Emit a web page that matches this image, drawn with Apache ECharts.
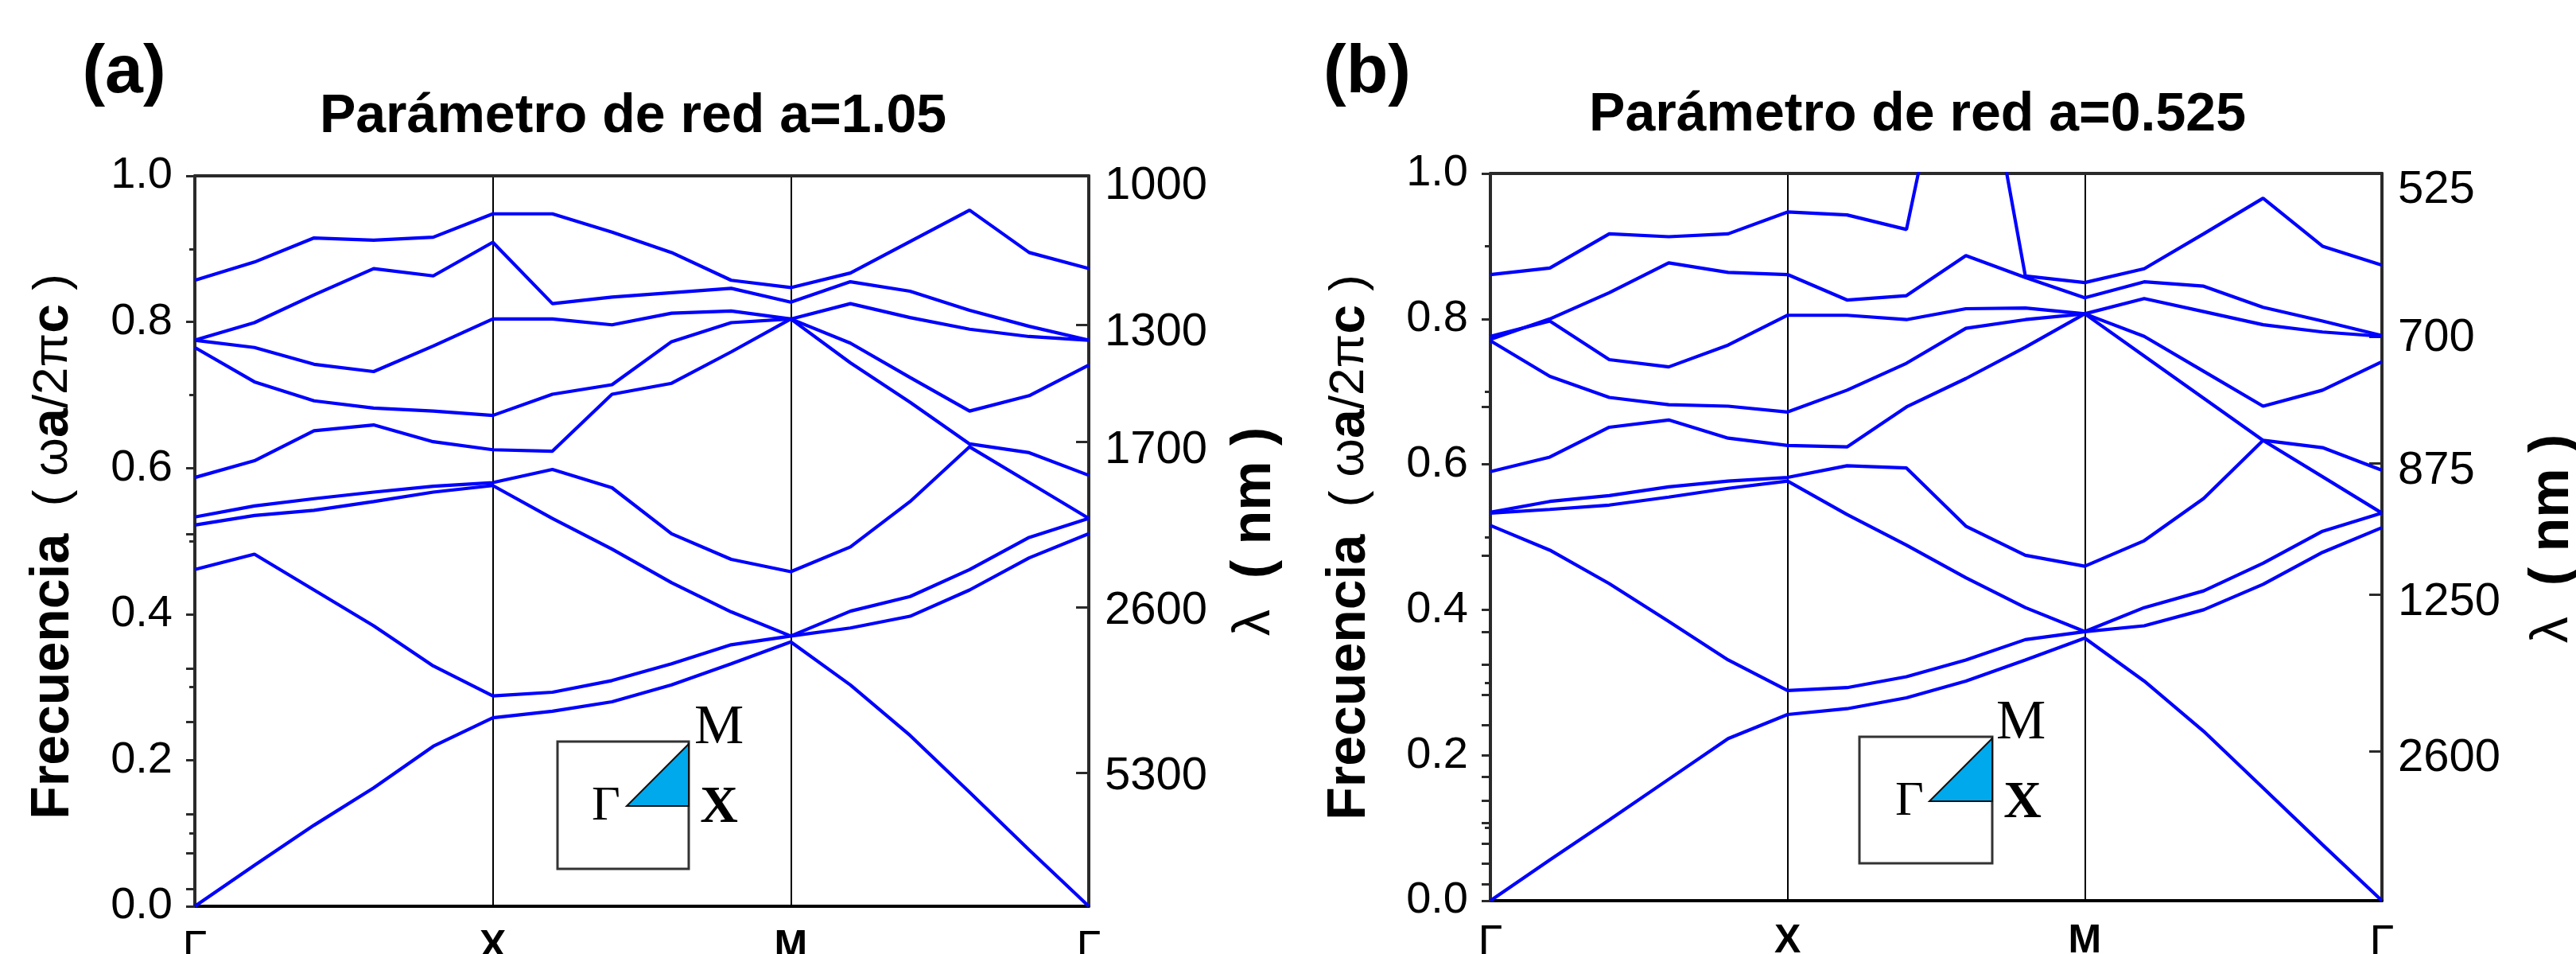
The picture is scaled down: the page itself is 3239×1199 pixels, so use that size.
<!DOCTYPE html>
<html>
<head>
<meta charset="utf-8">
<script src="https://cdn.jsdelivr.net/npm/echarts@6/dist/echarts.min.js"></script>
<style>
  html, body { margin: 0; padding: 0; background: #fff; }
  #chart { width: 3239px; height: 1199px; }
</style>
</head>
<body>
<div id="chart"></div>
<script>
// ---- k-path positions (Γ=0, X=1, M=2, Γ=3) ----
const kPoints = [0, 0.2, 0.4, 0.6, 0.8, 1.0, 1.2, 1.4, 1.6, 1.8, 2.0, 2.2, 2.4, 2.6, 2.8, 3.0];
const kLabels = ['Γ', 'X', 'M', 'Γ'];

// ---- Panel (a): a = 1.05 ----
const a_band1 = [0, 0.056, 0.111, 0.162, 0.219, 0.258, 0.267, 0.280, 0.303, 0.332, 0.362, 0.303, 0.234, 0.156, 0.077, 0];
const a_band2 = [0.461, 0.482, 0.433, 0.384, 0.329, 0.288, 0.293, 0.309, 0.332, 0.358, 0.370, 0.381, 0.397, 0.433, 0.477, 0.510];
const a_band3 = [0.522, 0.535, 0.542, 0.554, 0.567, 0.576, 0.531, 0.489, 0.443, 0.403, 0.370, 0.404, 0.424, 0.461, 0.505, 0.531];
const a_band4 = [0.533, 0.548, 0.558, 0.567, 0.575, 0.580, 0.598, 0.573, 0.510, 0.475, 0.458, 0.492, 0.554, 0.629, 0.580, 0.531];
const a_band5 = [0.587, 0.610, 0.651, 0.659, 0.636, 0.625, 0.623, 0.701, 0.716, 0.759, 0.804, 0.744, 0.690, 0.633, 0.621, 0.590];
const a_band6 = [0.765, 0.718, 0.692, 0.682, 0.678, 0.672, 0.701, 0.714, 0.773, 0.799, 0.804, 0.771, 0.724, 0.678, 0.699, 0.741];
const a_band7 = [0.775, 0.765, 0.742, 0.732, 0.767, 0.804, 0.804, 0.796, 0.812, 0.815, 0.804, 0.825, 0.806, 0.790, 0.780, 0.775];
const a_band8 = [0.775, 0.799, 0.837, 0.873, 0.863, 0.909, 0.825, 0.834, 0.840, 0.846, 0.827, 0.855, 0.842, 0.816, 0.794, 0.775];
const a_band9 = [0.857, 0.882, 0.915, 0.912, 0.916, 0.948, 0.948, 0.923, 0.895, 0.857, 0.847, 0.867, 0.910, 0.953, 0.895, 0.873];

// right axis (wavelength, nm) of panel (a)
const a_lambdaLabels = ['1000', '1300', '1700', '2600', '5300'];
const a_lambdaLabelPos = [0.986, 0.785, 0.624, 0.404, 0.178];
const a_lambdaMajorTicks = [0.796, 0.636, 0.409, 0.183];
const a_lambdaMinorTicks = [0.510, 0.325, 0.252, 0.126, 0.073, 0.024];

// ---- Panel (b): a = 0.525 ----
const b_band1 = [0, 0.056, 0.111, 0.167, 0.223, 0.256, 0.264, 0.279, 0.302, 0.331, 0.361, 0.302, 0.233, 0.155, 0.077, 0];
const b_band2 = [0.516, 0.482, 0.436, 0.384, 0.331, 0.289, 0.293, 0.308, 0.331, 0.359, 0.370, 0.378, 0.400, 0.435, 0.479, 0.513];
const b_band3 = [0.533, 0.538, 0.544, 0.555, 0.567, 0.577, 0.531, 0.489, 0.444, 0.403, 0.370, 0.403, 0.426, 0.464, 0.508, 0.533];
const b_band4 = [0.534, 0.549, 0.557, 0.569, 0.577, 0.582, 0.598, 0.595, 0.515, 0.475, 0.460, 0.495, 0.553, 0.633, 0.583, 0.533];
const b_band5 = [0.590, 0.610, 0.651, 0.661, 0.636, 0.626, 0.624, 0.679, 0.718, 0.761, 0.807, 0.749, 0.691, 0.633, 0.623, 0.592];
const b_band6 = [0.770, 0.721, 0.692, 0.682, 0.680, 0.672, 0.702, 0.739, 0.787, 0.799, 0.807, 0.776, 0.728, 0.680, 0.702, 0.741];
const b_band7 = [0.776, 0.797, 0.744, 0.734, 0.764, 0.805, 0.805, 0.799, 0.814, 0.815, 0.807, 0.828, 0.810, 0.792, 0.782, 0.776];
const b_band8 = [0.772, 0.800, 0.836, 0.877, 0.864, 0.861, 0.826, 0.832, 0.887, 0.857, 0.829, 0.851, 0.845, 0.816, 0.797, 0.777];
const b_band9 = [0.861, 0.870, 0.917, 0.913, 0.917, 0.947, 0.943, 0.923, 1.310, 0.859, 0.850, 0.869, 0.917, 0.966, 0.900, 0.874];

// right axis (wavelength, nm) of panel (b)
const b_lambdaLabels = ['525', '700', '875', '1250', '2600'];
const b_lambdaLabelPos = [0.977, 0.773, 0.591, 0.410, 0.196];
const b_lambdaMajorTicks = [0.775, 0.602, 0.421, 0.205];
const b_lambdaMinorTicks = [0.679, 0.475, 0.370, 0.325, 0.283, 0.241, 0.170, 0.138, 0.107, 0.079, 0.051, 0.023];

const titleA = 'Parámetro de red a=1.05';
const titleB = 'Parámetro de red a=0.525';

// ---------------------------------------------------------------
const SANS = '"Liberation Sans", Arial, sans-serif';
const SERIF = '"Liberation Serif", "Times New Roman", serif';
const BLUE = '#0000ff';
const FRAME = '#2a2a2a';

const bandsA = [a_band1, a_band2, a_band3, a_band4, a_band5, a_band6, a_band7, a_band8, a_band9];
const bandsB = [b_band1, b_band2, b_band3, b_band4, b_band5, b_band6, b_band7, b_band8, b_band9];

const grids = [
  { left: 245, top: 221, width: 1124, height: 918, containLabel: false, outerBoundsMode: 'none' },
  { left: 1874, top: 218, width: 1121, height: 914, containLabel: false, outerBoundsMode: 'none' }
];

function bottomX(gi) {
  return {
    type: 'value', gridIndex: gi, min: 0, max: 3, interval: 1, position: 'bottom',
    axisLine: { show: true, onZero: false, lineStyle: { color: '#000', width: 4 } },
    axisTick: { show: false },
    splitLine: { show: true, lineStyle: { color: '#000', width: 2 } },
    axisLabel: {
      margin: 26, verticalAlign: 'top',
      formatter: v => {
        const t = kLabels[Math.round(v)];
        return t === 'Γ' ? '{g|' + t + '}' : '{b|' + t + '}';
      },
      rich: {
        g: { fontFamily: SANS, fontSize: 56, color: '#000' },
        b: { fontFamily: SANS, fontSize: 50, fontWeight: 'bold', color: '#000' }
      }
    }
  };
}
function topX(gi) {
  return {
    type: 'value', gridIndex: gi, min: 0, max: 3, position: 'top',
    axisLine: { show: true, onZero: false, lineStyle: { color: FRAME, width: 4 } },
    axisTick: { show: false }, axisLabel: { show: false }, splitLine: { show: false }
  };
}
function leftY(gi) {
  return {
    type: 'value', gridIndex: gi, min: 0, max: 1, interval: 0.2, position: 'left',
    axisLine: { show: true, onZero: false, lineStyle: { color: FRAME, width: 4 } },
    axisTick: { show: true, inside: false, length: 11, lineStyle: { color: FRAME, width: 3 } },
    minorTick: { show: true, splitNumber: 2, length: 7, lineStyle: { color: FRAME, width: 3 } },
    splitLine: { show: false },
    axisLabel: {
      margin: 28, color: '#000', fontFamily: SANS, fontSize: 56,
      formatter: v => v.toFixed(1)
    }
  };
}
function rightMajorY(gi, labelPos, labels, ticks) {
  return {
    type: 'value', gridIndex: gi, min: 0, max: 1, position: 'right',
    axisLine: { show: true, onZero: false, lineStyle: { color: FRAME, width: 4 } },
    axisTick: { show: true, inside: true, length: 16, customValues: ticks, lineStyle: { color: FRAME, width: 3 } },
    splitLine: { show: false },
    axisLabel: {
      margin: 20, color: '#000', fontFamily: SANS, fontSize: 58,
      customValues: labelPos,
      formatter: v => {
        for (let i = 0; i < labelPos.length; i++) if (Math.abs(labelPos[i] - v) < 1e-6) return labels[i];
        return '';
      }
    }
  };
}
function rightMinorY(gi, ticks) {
  return {
    type: 'value', gridIndex: gi, min: 0, max: 1, position: 'right',
    axisLine: { show: false },
    axisTick: { show: true, inside: true, length: 11, customValues: ticks, lineStyle: { color: FRAME, width: 3 } },
    splitLine: { show: false },
    axisLabel: { show: false }
  };
}

const series = [];
bandsA.forEach((b, i) => series.push({
  type: 'line', name: 'a' + (i + 1), xAxisIndex: 0, yAxisIndex: 0,
  data: kPoints.map((k, j) => [k, b[j]]),
  showSymbol: false, symbol: 'none', clip: true, animation: false,
  lineStyle: { color: BLUE, width: 4.2 }
}));
bandsB.forEach((b, i) => series.push({
  type: 'line', name: 'b' + (i + 1), xAxisIndex: 2, yAxisIndex: 3,
  data: kPoints.map((k, j) => [k, b[j]]),
  showSymbol: false, symbol: 'none', clip: true, animation: false,
  lineStyle: { color: BLUE, width: 4.2 }
}));

function txt(x, y, text, font, extra) {
  return Object.assign({
    type: 'text', x: x, y: y, z: 100,
    style: { text: text, font: font, fill: '#000', align: 'center', verticalAlign: 'middle' }
  }, extra || {});
}
function richName(x, y, rich, text) {
  return {
    type: 'text', x: x, y: y, rotation: Math.PI / 2, z: 100,
    style: { text: text, rich: rich, fill: '#000', align: 'center', verticalAlign: 'middle' }
  };
}
const yNameRich = {
  b: { fontFamily: SANS, fontSize: 68, fontWeight: 'bold', fill: '#000' },
  n: { fontFamily: SANS, fontSize: 62, fill: '#000' },
  c: { fontFamily: SANS, fontSize: 66, fontWeight: 'bold', fill: '#000' }
};
const yNameText = '{b|Frecuencia}{n|  ( ω}{c|a}{n|/2π}{c|c}{n| )}';
const lamRich = {
  l: { fontFamily: SANS, fontSize: 66, fill: '#000' },
  b: { fontFamily: SANS, fontSize: 70, fontWeight: 'bold', fill: '#000' }
};
const lamText = '{l|λ}{b|  ( nm )}';

function inset(bx, by, bw, bh, gx, gy, tipX, tipY, mPos, gPos, xPos) {
  return [
    { type: 'rect', z: 90, shape: { x: bx, y: by, width: bw, height: bh },
      style: { fill: '#fff', stroke: '#333', lineWidth: 3 } },
    { type: 'polygon', z: 91, shape: { points: [[gx, gy], [tipX, gy], [tipX, tipY]] },
      style: { fill: '#00a8ec', stroke: '#111', lineWidth: 2 } },
    txt(mPos[0], mPos[1], 'M', '70px ' + SERIF),
    txt(gPos[0], gPos[1], 'Γ', '62px ' + SERIF),
    txt(xPos[0], xPos[1], 'X', 'bold 66px ' + SERIF)
  ];
}

const graphics = [
  txt(156, 92, '(a)', 'bold 86px ' + SANS),
  txt(1719, 92, '(b)', 'bold 86px ' + SANS),
  txt(796, 147, titleA, 'bold 68px ' + SANS),
  txt(2411, 145, titleB, 'bold 68px ' + SANS),
  richName(67, 687, yNameRich, yNameText),
  richName(1697, 688, yNameRich, yNameText),
  richName(1578, 668, lamRich, lamText),
  richName(3210, 677, lamRich, lamText)
].concat(
  inset(701, 932, 165, 160, 788, 1013, 866, 935, [904, 916], [762, 1014], [904, 1016]),
  inset(2338, 926, 167, 159, 2426, 1007, 2505, 928, [2541, 910], [2401, 1008], [2543, 1010])
);

const option = {
  backgroundColor: '#fff',
  animation: false,
  grid: grids,
  xAxis: [bottomX(0), topX(0), bottomX(1), topX(1)],
  yAxis: [
    leftY(0),
    rightMajorY(0, a_lambdaLabelPos, a_lambdaLabels, a_lambdaMajorTicks),
    rightMinorY(0, a_lambdaMinorTicks),
    leftY(1),
    rightMajorY(1, b_lambdaLabelPos, b_lambdaLabels, b_lambdaMajorTicks),
    rightMinorY(1, b_lambdaMinorTicks)
  ],
  series: series,
  graphic: graphics
};

const chart = echarts.init(document.getElementById('chart'), null, { renderer: 'canvas' });
chart.setOption(option);
</script>
</body>
</html>
